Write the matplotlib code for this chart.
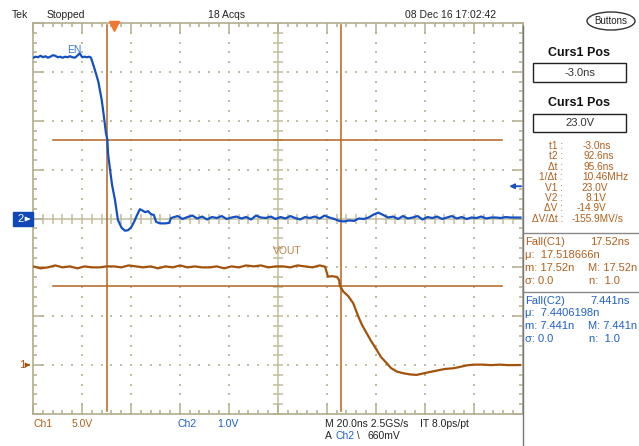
import matplotlib
matplotlib.use('Agg')
import matplotlib.pyplot as plt
from matplotlib.patches import Rectangle, Ellipse
import numpy as np

plt.rcParams['font.family'] = ['Liberation Sans', 'DejaVu Sans']

# ---------------- data ----------------
# Ch2 (EN), volts vs time in ns
en_t = [-33, -32, -31, -30, -29, -28, -27, -26, -25, -24, -23, -22, -21, -20, -19, -18, -17, -16, -15, -14,
        -13, -12, -11, -10,
        -9.4, -7.8, -6.4, -5.0, -4.1, -3.3, -2.7, -2.45, -1.6, -0.8, 0.4, 1.6, 3.1, 4.5, 5.7, 6.9, 8.2, 9.4,
        10.6, 11.4, 12.7, 13.9, 15.1, 16.3, 17.2, 18.8, 20.8, 22.5, 23.3,
        24, 26, 28, 30, 32, 34, 36, 38, 40, 42, 44, 46, 48, 50, 52, 54, 56, 58, 60, 62, 64, 66, 68, 70,
        72, 74, 76, 78, 80, 82, 84, 86, 88, 90, 92, 94, 96, 98, 100, 102, 104, 106, 108, 110, 112, 114,
        116, 118, 120, 122, 124, 126, 128, 130, 132, 134, 136, 138, 140, 142, 144, 146, 148, 150, 152,
        154, 156, 158, 160, 162, 164, 166]
en_v = [3.29, 3.31, 3.30, 3.33, 3.30, 3.32, 3.29, 3.31, 3.34, 3.33, 3.30, 3.31, 3.29, 3.31, 3.30, 3.32,
        3.30, 3.29, 3.33, 3.38, 3.30, 3.31, 3.30, 3.31,
        3.29, 3.04, 2.80, 2.42, 2.08, 1.75, 1.61, 1.34, 0.99, 0.69, 0.38, -0.03, -0.19, -0.25, -0.24, -0.19,
        -0.07, 0.07, 0.19, 0.17, 0.13, 0.15, 0.09, 0.07, -0.07, -0.10, -0.10, -0.09, 0.01,
        0.02, 0.05, -0.01, 0.03, 0.06, 0.00, 0.04, -0.02, 0.03, 0.01,
        0.05, -0.01, 0.02, 0.04, 0.00, 0.03, -0.02, 0.06, 0.02, 0.01,
        0.04, -0.01, 0.03, 0.00, 0.05, 0.01, -0.02, 0.03, 0.01, 0.04,
        0.00, 0.06, 0.02, -0.01, -0.05, -0.06, -0.04, -0.05, 0.00, -0.01,
        0.02, 0.08, 0.12, 0.07, 0.02, 0.04, -0.01, 0.05, 0.00, 0.02,
        0.05, -0.02, 0.03, 0.01, 0.04, -0.01, 0.02, 0.05, 0.00, 0.03,
        -0.01, 0.02, 0.01, 0.04, 0.00, 0.02, 0.02, 0.01, 0.03, 0.02,
        0.02, 0.02]

# Ch1 (VOUT), volts vs time in ns
vout_t = [-33, -30, -27, -24, -21, -18, -15, -12, -9, -6, -3, 0, 3, 6, 9, 12, 15, 18, 21, 24,
          27, 30, 33, 36, 39, 42, 45, 48, 51, 54, 57, 60, 63, 66, 69, 72, 75, 78, 81, 84,
          86.2, 87.4, 89.0, 91.1, 91.9, 92.3, 93.7, 95.6, 97.7, 99.8, 101.3, 103.2, 105.0, 107.3,
          109.0, 111.4, 113.1, 115.5, 118.2, 120.9, 123.6, 125.4, 127.7, 131.8, 135.2, 138.6,
          141.0, 144.1, 147.0, 150.7, 154.0, 157.6, 161.0, 165.8]
vout_v = [10.1, 9.9, 10.0, 10.2, 10.0, 10.1, 9.9, 10.1, 10.0, 10.0,
          10.1, 10.1, 10.0, 10.2, 10.1, 10.0, 10.1, 9.9, 10.1, 10.0,
          10.2, 10.0, 10.1, 10.0, 10.0, 10.1, 9.9, 10.1, 10.0, 10.2,
          10.1, 10.2, 10.0, 10.1, 10.1, 10.0, 10.2, 10.1, 10.0, 10.2,
          10.07, 9.05, 9.10, 9.02, 8.71, 8.10, 7.51, 7.08, 6.33, 4.96, 4.11, 3.26, 2.47, 1.56,
          0.84, 0.19, -0.29, -0.66, -0.83, -0.95, -1.00, -0.90, -0.77, -0.56, -0.39, -0.32,
          -0.20, -0.02, 0.05, 0.05, 0.00, 0.05, 0.00, 0.01]

ch1_volts_per_div = 5.0
ch1_ground_div = -3.0
ch2_volts_per_div = 1.0
ch2_ground_div = 0.0
time_per_div = 20.0
t_left = -33.08
cursor_t = [-3.0, 92.6]
cursor_v = [23.0, 8.1]
trig_level = 0.66

readout_labels = ['t1 :', 't2 :', 'Δt :', '1/Δt :', 'V1 :', 'V2 :', 'ΔV :', 'ΔV/Δt :']
readout_values = ['-3.0ns', '92.6ns', '95.6ns', '10.46MHz', '23.0V', '8.1V', '-14.9V', '-155.9MV/s']

# ---------------- styles ----------------
W, H = 639, 446
gridc = '#c2bd9c'
spinec = '#b2ad8d'
blue = '#1550c2'
ch1c = '#a3520b'
curc = '#b4641e'
otext = '#b0601c'
btext = '#1f5fc8'

fig = plt.figure(figsize=(W / 100, H / 100), dpi=100)
fig.patch.set_facecolor('white')

ax = fig.add_axes([33 / W, 1 - 414 / H, 489.7 / W, 391 / H])
t_right = t_left + 10 * time_per_div
ax.set_xlim(t_left, t_right)
ax.set_ylim(-4, 4)
ax.set_facecolor('white')

# dotted graticule
divx = np.arange(0, 10.001, 0.2)
divy = np.arange(-4, 4.001, 0.2)
for k in range(1, 10):
    if k == 5:
        continue
    xk = t_left + k * time_per_div
    ax.scatter(np.full(divy.size, xk), divy, s=1.2, marker='s', color=gridc, linewidths=0, zorder=1)
for k in range(-3, 4):
    if k == 0:
        continue
    ax.scatter(t_left + divx * time_per_div, np.full(divx.size, k), s=1.2, marker='s', color=gridc,
               linewidths=0, zorder=1)

# center crosshair with ticks
tc = t_left + 5 * time_per_div
ax.axvline(tc, color=gridc, lw=1.1, zorder=1)
ax.axhline(0, color=gridc, lw=1.1, zorder=1)
ax.plot(t_left + divx * time_per_div, np.zeros(divx.size), ls='none', marker='|', ms=7, mew=1.1,
        color=gridc, zorder=1)
ax.plot(np.full(divy.size, tc), divy, ls='none', marker='_', ms=7, mew=1.1, color=gridc, zorder=1)

for s in ax.spines.values():
    s.set_color(spinec)
    s.set_linewidth(1.2)
ax.set_xticks(t_left + np.arange(0, 11) * time_per_div)
ax.set_xticks(t_left + divx * time_per_div, minor=True)
ax.set_yticks(np.arange(-4, 5))
ax.set_yticks(divy, minor=True)
ax.tick_params(which='both', direction='in', top=True, right=True, bottom=True, left=True,
               labelbottom=False, labelleft=False, color=spinec, width=1.1)
ax.tick_params(which='major', length=7)
ax.tick_params(which='minor', length=3)

# traces
ax.plot(en_t, np.array(en_v) / ch2_volts_per_div + ch2_ground_div, color=blue, lw=1.6, zorder=5)
ax.plot(vout_t, np.array(vout_v) / ch1_volts_per_div + ch1_ground_div, color=ch1c, lw=1.6, zorder=5)

# cursors
for tcur in cursor_t:
    ax.plot([tcur, tcur], [-3.94, 3.96], color=curc, lw=1.1, zorder=4)
for vcur in cursor_v:
    yc = vcur / ch1_volts_per_div + ch1_ground_div
    ax.plot([-24.9, 158.5], [yc, yc], color=curc, lw=1.1, zorder=4)

# trigger position marker and level arrow
ax.plot(0, 3.94, marker='v', ms=7, color='#f07830', clip_on=False, zorder=10)
ax.annotate('', xy=(t_right - 5.5, trig_level), xytext=(t_right - 0.6, trig_level),
            arrowprops=dict(arrowstyle='-|>', color=blue, lw=1.3, mutation_scale=7,
                            shrinkA=0, shrinkB=0), zorder=10)

# ---------------- overlay (pixel coordinates) ----------------
ov = fig.add_axes([0, 0, 1, 1])
ov.set_xlim(0, W)
ov.set_ylim(H, 0)
ov.axis('off')
ov.patch.set_alpha(0)


def txt(x, y, s, color='#222222', size=7.5, ha='left', weight='normal'):
    ov.text(x, y, s, color=color, fontsize=size, ha=ha, va='center', fontweight=weight)


# top line
txt(12, 15, 'Tek')
txt(47, 15, 'Stopped')
txt(208, 15, '18 Acqs')
txt(405, 15, '08 Dec 16 17:02:42')
ov.add_patch(Ellipse((611, 21), 48, 18, fill=False, ec='#333333', lw=1.0))
txt(611, 21, 'Buttons', ha='center', size=7)

# trace labels
txt(67, 50, 'EN', color='#3a78d0', size=7.5)
txt(273, 251, 'VOUT', color='#c0854a', size=7.5)

# channel ground markers
ov.add_patch(Rectangle((13, 212), 20, 13.5, color='#1048b8'))
txt(17, 219, '2', color='white', size=8)
ov.annotate('', xy=(33, 219), xytext=(25, 219),
            arrowprops=dict(arrowstyle='-|>', color='white', lw=1.0, mutation_scale=6))
txt(19, 365, '1', color=ch1c, size=8)
ov.annotate('', xy=(33, 365), xytext=(26, 365),
            arrowprops=dict(arrowstyle='-|>', color=ch1c, lw=1.0, mutation_scale=6))

# bottom info
txt(33, 424, 'Ch1', color=otext)
txt(72, 424, '5.0V', color=otext)
txt(178, 424, 'Ch2', color=btext)
txt(217, 424, '1.0V', color=btext)
txt(325, 424, 'M 20.0ns 2.5GS/s')
txt(420, 424, 'IT 8.0ps/pt')
txt(325, 436, 'A')
txt(335, 436, 'Ch2', color=btext)
txt(357, 436, '\\', size=7)
txt(368, 436, '660mV')

# side panel
ov.plot([522.7, 522.7], [26, 446], color='#777777', lw=1.0)
ov.plot([523, 639], [233, 233], color='#888888', lw=1.0)
ov.plot([523, 639], [291.5, 291.5], color='#888888', lw=1.0)

txt(579.5, 53, 'Curs1 Pos', size=9, ha='center', weight='bold', color='#111111')
ov.add_patch(Rectangle((533, 63), 93, 19, fill=False, ec='#222222', lw=1.0))
txt(579.5, 72.5, '-3.0ns', size=8, ha='center', color='#333333')
txt(579.5, 103, 'Curs1 Pos', size=9, ha='center', weight='bold', color='#111111')
ov.add_patch(Rectangle((533, 114), 93, 18, fill=False, ec='#222222', lw=1.0))
txt(579.5, 123, '23.0V', size=8, ha='center', color='#333333')

row_y = [146, 156.4, 166.8, 177.2, 187.6, 198, 208.4, 219]
val_x = [583, 583, 583, 582, 581, 585, 577, 572]
for lab, val, yy, vx in zip(readout_labels, readout_values, row_y, val_x):
    txt(563, yy, lab, color=otext, size=7.3, ha='right')
    txt(vx, yy, val, color=otext, size=7.3)

# fall measurements
fs = 8
txt(525, 242, 'Fall(C1)', color=otext, size=fs)
txt(590, 242, '17.52ns', color=otext, size=fs)
txt(525, 255, 'μ:  17.518666n', color=otext, size=fs)
txt(525, 268, 'm: 17.52n', color=otext, size=fs)
txt(588, 268, 'M: 17.52n', color=otext, size=fs)
txt(525, 281, 'σ: 0.0', color=otext, size=fs)
txt(589, 281, 'n:  1.0', color=otext, size=fs)

txt(525, 301, 'Fall(C2)', color=btext, size=fs)
txt(590, 301, '7.441ns', color=btext, size=fs)
txt(525, 313, 'μ:  7.4406198n', color=btext, size=fs)
txt(525, 326, 'm: 7.441n', color=btext, size=fs)
txt(588, 326, 'M: 7.441n', color=btext, size=fs)
txt(525, 339, 'σ: 0.0', color=btext, size=fs)
txt(589, 339, 'n:  1.0', color=btext, size=fs)

fig.savefig('out.png', dpi=100)
